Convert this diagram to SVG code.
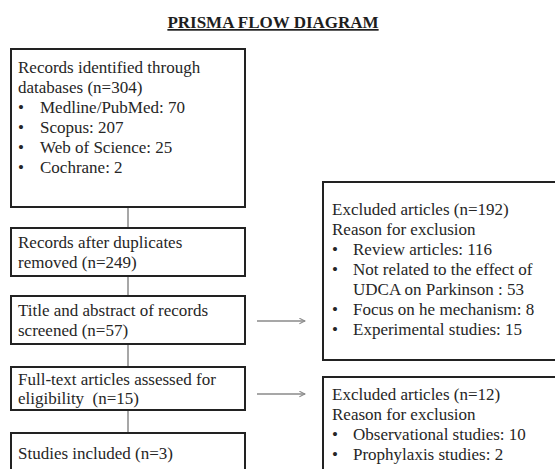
<svg xmlns="http://www.w3.org/2000/svg" width="555" height="469" viewBox="0 0 555 469">
<style>
.box{fill:#fff;stroke:#222;stroke-width:2}
text{font-family:'Liberation Serif','DejaVu Serif',serif;font-size:17px;fill:#262626}
.title{font-weight:bold;fill:#1e1e1e;text-decoration:underline}
.conn{stroke:#8a8a8a;stroke-width:1.5;fill:none}
</style>
<defs>
<marker id="arr" viewBox="0 0 10 10" refX="9" refY="5" markerWidth="7" markerHeight="7" orient="auto" markerUnits="userSpaceOnUse">
<path d="M1,1 L9,5 L1,9" fill="none" stroke="#8a8a8a" stroke-width="1.5"/>
</marker>
</defs>
<rect width="555" height="469" fill="#fff"/>
<text class="title" x="273" y="28" text-anchor="middle">PRISMA FLOW DIAGRAM</text>
<g id="connectors">
<line class="conn" x1="128" y1="207" x2="128" y2="228"/>
<line class="conn" x1="128" y1="276" x2="128" y2="296"/>
<line class="conn" x1="128" y1="344" x2="128" y2="367"/>
<line class="conn" x1="128" y1="410" x2="128" y2="433"/>
<line class="conn" x1="257" y1="321" x2="305" y2="321" marker-end="url(#arr)"/>
<line class="conn" x1="257" y1="394" x2="305" y2="394" marker-end="url(#arr)"/>
</g>
<g id="identified">
<rect class="box" x="11" y="49" width="234" height="158"/>
<text x="18" y="73">Records identified through</text>
<text x="18" y="93">databases (n=304)</text>
<text x="18" y="113">•<tspan x="40">Medline/PubMed: 70</tspan></text>
<text x="18" y="133">•<tspan x="40">Scopus: 207</tspan></text>
<text x="18" y="153">•<tspan x="40">Web of Science: 25</tspan></text>
<text x="18" y="173">•<tspan x="40">Cochrane: 2</tspan></text>
</g>
<g id="duplicates">
<rect class="box" x="11" y="228" width="234" height="48"/>
<text x="18" y="248">Records after duplicates</text>
<text x="18" y="268">removed (n=249)</text>
</g>
<g id="screened">
<rect class="box" x="11" y="296" width="234" height="48"/>
<text x="18" y="316">Title and abstract of records</text>
<text x="18" y="336">screened (n=57)</text>
</g>
<g id="fulltext">
<rect class="box" x="11" y="367" width="234" height="43"/>
<text x="18" y="385">Full-text articles assessed for</text>
<text x="18" y="404" xml:space="preserve">eligibility  (n=15)</text>
</g>
<g id="included">
<rect class="box" x="11" y="433" width="234" height="50"/>
<text x="18" y="459">Studies included (n=3)</text>
</g>
<g id="excluded1">
<rect class="box" x="323" y="182" width="240" height="178"/>
<text x="332" y="215">Excluded articles (n=192)</text>
<text x="332" y="235">Reason for exclusion</text>
<text x="332" y="255">•<tspan x="353">Review articles: 116</tspan></text>
<text x="332" y="275">•<tspan x="353">Not related to the effect of</tspan></text>
<text x="353" y="295">UDCA on Parkinson : 53</text>
<text x="332" y="315">•<tspan x="353">Focus on he mechanism: 8</tspan></text>
<text x="332" y="335">•<tspan x="353">Experimental studies: 15</tspan></text>
</g>
<g id="excluded2">
<rect class="box" x="323" y="377" width="240" height="110"/>
<text x="332" y="400">Excluded articles (n=12)</text>
<text x="332" y="420">Reason for exclusion</text>
<text x="332" y="440">•<tspan x="353">Observational studies: 10</tspan></text>
<text x="332" y="460">•<tspan x="353">Prophylaxis studies: 2</tspan></text>
</g>
</svg>
